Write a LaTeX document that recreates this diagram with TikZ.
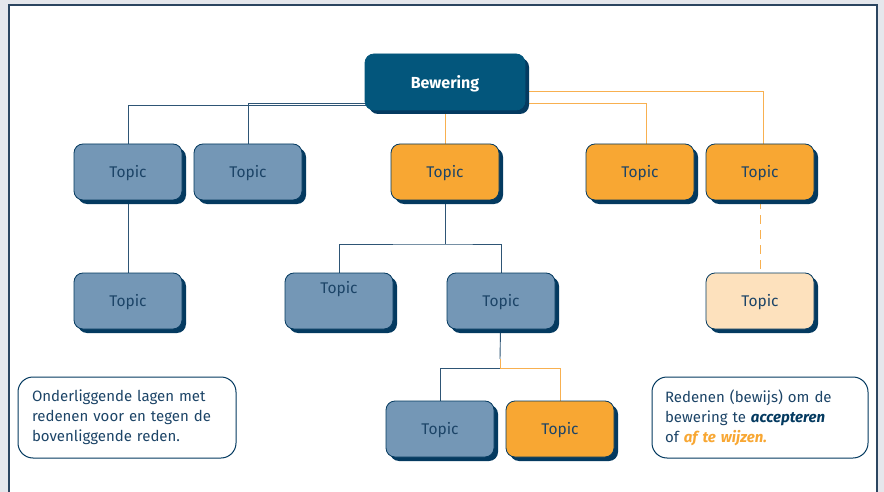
\documentclass[tikz,border=0pt]{standalone}
\usepackage{fontspec}
\setmainfont{Fira Sans}
\usetikzlibrary{backgrounds}

\definecolor{bewfill}{RGB}{3,86,124}
\definecolor{shadowc}{RGB}{4,58,96}
\definecolor{bluefill}{RGB}{116,151,182}
\definecolor{orangefill}{RGB}{248,167,51}
\definecolor{lightfill}{RGB}{253,225,189}
\definecolor{navytext}{RGB}{28,68,103}
\definecolor{bluelinec}{RGB}{46,85,117}
\definecolor{orangelinec}{RGB}{248,176,80}
\definecolor{pagegray}{RGB}{229,231,236}
\definecolor{framec}{RGB}{43,69,96}

\tikzset{every picture/.style={line width=0.75pt}}
\tikzset{
  box/.style={rounded corners=9pt, minimum width=108pt, minimum height=56pt, inner sep=0pt,
    draw=shadowc, line width=0.8pt, text=navytext, font=\fontsize{15.5}{18}\selectfont,
    text height=14pt, text depth=3pt,
    preaction={fill=shadowc, transform canvas={xshift=4pt,yshift=-4pt}}},
  bluetopic/.style={box, fill=bluefill},
  orangetopic/.style={box, fill=orangefill},
  lighttopic/.style={box, fill=lightfill},
  claim/.style={box, fill=bewfill, draw=bewfill, minimum width=160pt, text=white,
    font=\fontsize{16}{18}\selectfont\bfseries, text height=17pt},
  note/.style={draw=shadowc, line width=1pt, fill=white, rounded corners=15pt,
    minimum width=218pt, minimum height=81pt, text width=190pt, align=left, inner sep=0pt,
    text=navytext, font=\fontsize{15}{20}\selectfont},
  bline/.style={draw=bluelinec, line width=0.9pt},
  oline/.style={draw=orangelinec, line width=0.9pt}
}

\begin{document}
\begin{tikzpicture}[x=1pt,y=1pt,yscale=-1,xscale=1]
\useasboundingbox (0,0) rectangle (884,492);

% Claim
\node [claim] (bew) at (445,82) {Bewering};

% Topics, first row
\node [bluetopic] (tA) at (128,172) {Topic};
\node [bluetopic] (tB) at (248,172) {Topic};
\node [orangetopic] (tC) at (445,172) {Topic};
\node [orangetopic] (tD) at (640,172) {Topic};
\node [orangetopic] (tE) at (760,172) {Topic};

% Topics, second row
\node [bluetopic] (tA2) at (128,301) {Topic};
\node [bluetopic, text depth=29pt] (tC2) at (339,301) {Topic};
\node [bluetopic] (tM2) at (501,301) {Topic};
\node [lighttopic] (tE2) at (760,301) {Topic};

% Topics, third row
\node [bluetopic] (tR3a) at (440,429) {Topic};
\node [orangetopic] (tR3b) at (560,429) {Topic};

% Text Node
\node [note] (noteL) at (127,417.5) {Onderliggende lagen met redenen voor en tegen de bovenliggende reden.};
% Text Node
\node [note, minimum width=216pt] (noteR) at (760,417.5) {Redenen (bewijs) om de\\bewering te \textcolor{shadowc}{\textbf{\textit{accepteren}}}\\of \textcolor{orangefill}{\textbf{\textit{af te wijzen.}}}};

% junctions
\coordinate (jA) at (129,105.5);
\coordinate (jB) at (246,103);
\coordinate (jD) at (646,103);
\coordinate (jE) at (763,91);
\coordinate (jC) at (445,244);
\coordinate (jMo) at (500,359);
\coordinate (jM) at (500,368);

\begin{scope}[on background layer]
%Page
\fill [pagegray] (0,0) rectangle (884,492);
\draw [framec, line width=1.5pt, fill=white] (9,5) rectangle (877,510);

%Straight Lines
\draw [bline] (bew.center |- jA) -| (tA);
\draw [bline] (bew.center |- jB) -| (tB);
\draw [oline] (bew) -- (tC);
\draw [oline] (bew.center |- jD) -- (jD) -- (jD |- tD.north);
\draw [oline] (bew.center |- jE) -- (jE) -- (jE |- tE.north);
\draw [bline] (tA) -- (tA2);
\draw [bline] (tC) -- (jC);
\draw [bline] (tC2) |- (jC) -| (tM2);
\draw [bline] (tM2) -- (jMo);
\draw [oline] (jMo) -- (jM);
\draw [bline] (jM) -| (tR3a);
\draw [oline] (jM) -| (tR3b);
\draw [oline, dash pattern={on 9pt off 6pt}] (tE) -- (tE2);
\end{scope}
\end{tikzpicture}
\end{document}
